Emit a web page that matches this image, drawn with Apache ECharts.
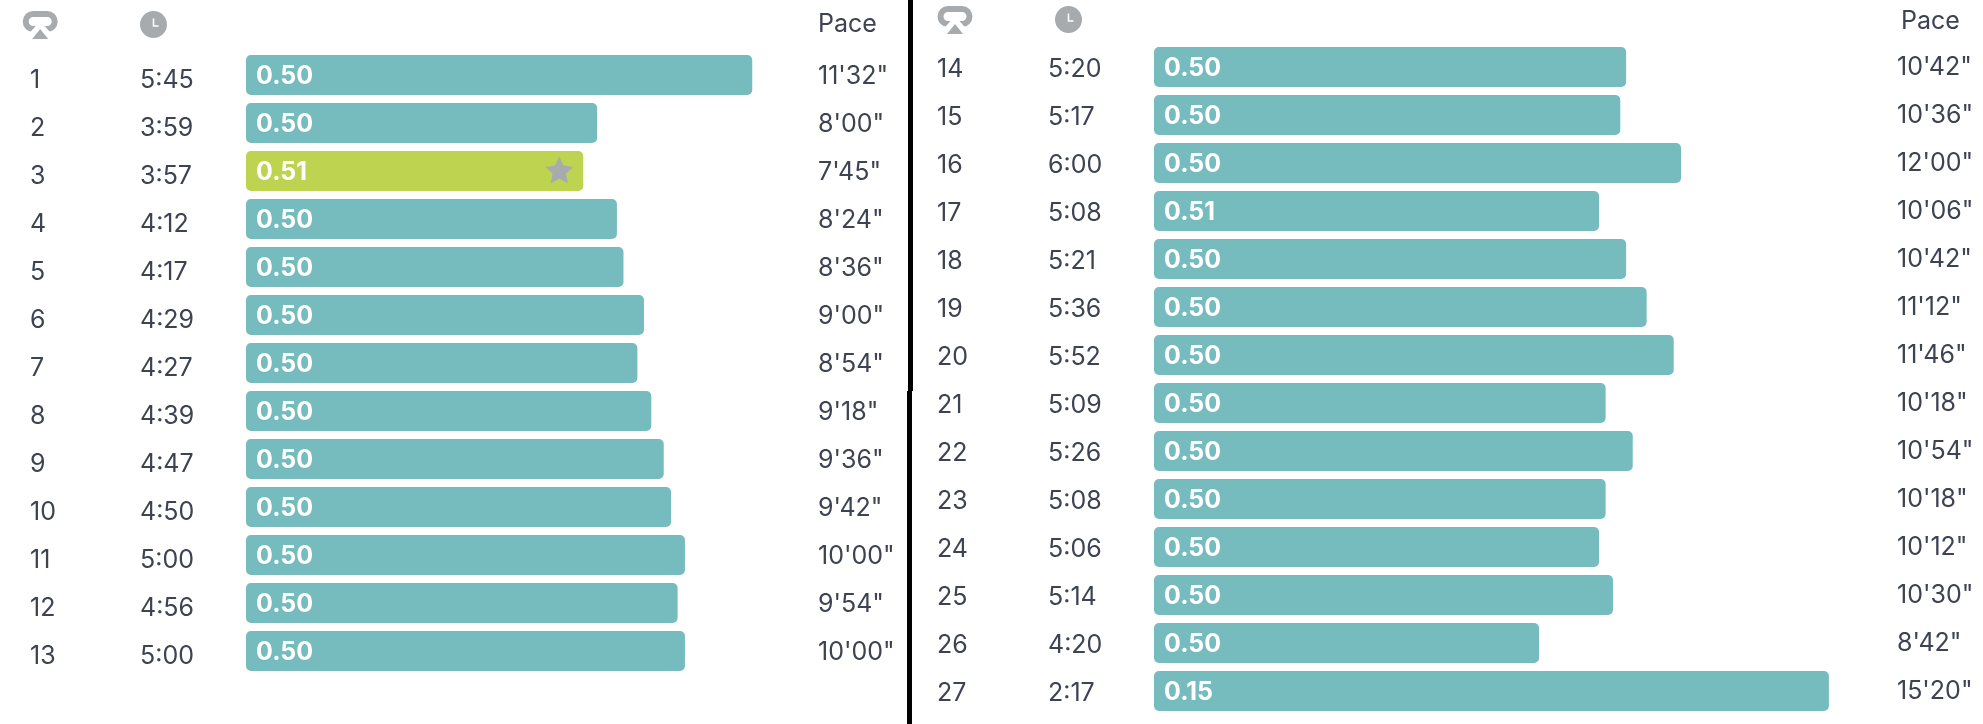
<!DOCTYPE html>
<html><head><meta charset="utf-8">
<script src="https://cdn.jsdelivr.net/npm/echarts@6/dist/echarts.min.js"></script>
<style>html,body{margin:0;padding:0;background:#fff}#c{width:1983px;height:724px}</style>
</head><body><div id="c"></div>
<script>
const lapsA = ['1','2','3','4','5','6','7','8','9','10','11','12','13'];
const timesA = ['5:45','3:59','3:57','4:12','4:17','4:29','4:27','4:39','4:47','4:50','5:00','4:56','5:00'];
const distA = ['0.50','0.50','0.51','0.50','0.50','0.50','0.50','0.50','0.50','0.50','0.50','0.50','0.50'];
const paceLabelA = ["11'32\"","8'00\"","7'45\"","8'24\"","8'36\"","9'00\"","8'54\"","9'18\"","9'36\"","9'42\"","10'00\"","9'54\"","10'00\""];
const paceSecA = [692,480,461,507,516,544,535,554,571,581,600,590,600];
const lapsB = ['14','15','16','17','18','19','20','21','22','23','24','25','26','27'];
const timesB = ['5:20','5:17','6:00','5:08','5:21','5:36','5:52','5:09','5:26','5:08','5:06','5:14','4:20','2:17'];
const distB = ['0.50','0.50','0.50','0.51','0.50','0.50','0.50','0.50','0.50','0.50','0.50','0.50','0.50','0.15'];
const paceLabelB = ["10'42\"","10'36\"","12'00\"","10'06\"","10'42\"","11'12\"","11'46\"","10'18\"","10'54\"","10'18\"","10'12\"","10'30\"","8'42\"","15'20\""];
const paceSecB = [645,637,720,608,645,673,710,617,654,617,608,627,526,922];
const bestLapIndex = 2;

const FONT = 'Inter';
const INK = '#3d4352', TEAL = '#76bcbf', LIME = '#bed350', GREY = '#a7abae';

function yAxisFor(gridIndex, labels, position, margin, shift){
  const textStyle = {color:INK, fontFamily:FONT, fontSize:25};
  return {
    type:'category', gridIndex, data:labels, inverse:true, position,
    axisLine:{show:false}, axisTick:{show:false}, splitLine:{show:false},
    axisLabel:Object.assign({show:true, interval:0, margin, align:'left',
      formatter:v=>'{t|'+v+'}',
      rich:{t:Object.assign({padding:[shift*2,0,0,0], align:'left'}, textStyle)}}, textStyle)
  };
}
function barSeries(xAxisIndex, yAxisIndex, values, dist, best){
  const barText = {color:'#fff', fontFamily:FONT, fontWeight:700, fontSize:25};
  return {
    type:'bar', xAxisIndex, yAxisIndex, barWidth:40, silent:true, animation:false,
    data: values.map((v,i)=>({value:v, itemStyle:{color: i===best?LIME:TEAL, borderRadius:5}})),
    label:Object.assign({show:true, position:'insideLeft', distance:10,
      formatter:p=>'{b|'+dist[p.dataIndex]+'}',
      rich:{b:Object.assign({padding:[2,0,0,0]}, barText)}}, barText),
    markPoint: best>=0 ? {
      silent:true, animation:false,
      symbol:'path://M50 0 L65 33 L100 38 L74 62 L81 98 L50 80 L19 98 L26 62 L0 38 L35 33 Z',
      symbolSize:[28,27], symbolOffset:[-24,-1],
      itemStyle:{color:GREY}, label:{show:false},
      data:[{coord:[values[best], best]}]
    } : undefined
  };
}
function lapIcon(x,y){
  return {type:'group', x, y, silent:true, children:[
    {type:'rect', shape:{x:3,y:3,width:29,height:15,r:7.5}, style:{fill:'none',stroke:GREY,lineWidth:6}},
    {type:'polygon', shape:{points:[[1.5,28],[17.5,10],[33.5,28]]}, style:{fill:'#fff'}},
    {type:'polygon', shape:{points:[[9.5,28],[17.5,18],[25.5,28]]}, style:{fill:GREY}}
  ]};
}
function clockIcon(cx,cy){
  return {type:'group', x:cx, y:cy, silent:true, children:[
    {type:'circle', shape:{cx:0,cy:0,r:13.5}, style:{fill:GREY}},
    {type:'polyline', shape:{points:[[0,-6],[0,1.5],[5,1.5]]}, style:{fill:'none',stroke:'#fff',lineWidth:1.6}}
  ]};
}
function paceHead(x,y){
  return {type:'text', x, y, silent:true, style:{text:'Pace', fill:INK, font:'25px '+FONT, textVerticalAlign:'middle'}};
}

const chart = echarts.init(document.getElementById('c'), null, {renderer:'canvas'});
chart.setOption({
  backgroundColor:'#fff', animation:false,
  grid:[
    {left:246, top:51, width:556, height:624},
    {left:1154, top:43, width:732, height:672}
  ],
  xAxis:[
    {type:'value', gridIndex:0, min:0, max:760, show:false},
    {type:'value', gridIndex:1, min:0, max:1000, show:false}
  ],
  yAxis:[
    yAxisFor(0, lapsA, 'left', 216, 5),
    yAxisFor(0, timesA, 'left', 106, 5),
    yAxisFor(0, paceLabelA, 'right', 16, 1),
    yAxisFor(1, lapsB, 'left', 217, 2.5),
    yAxisFor(1, timesB, 'left', 106, 2.5),
    yAxisFor(1, paceLabelB, 'right', 11, 0)
  ],
  series:[
    barSeries(0,0,paceSecA,distA,bestLapIndex),
    {type:'bar',xAxisIndex:0,yAxisIndex:1,data:[],silent:true},
    {type:'bar',xAxisIndex:0,yAxisIndex:2,data:[],silent:true},
    barSeries(1,3,paceSecB,distB,-1),
    {type:'bar',xAxisIndex:1,yAxisIndex:4,data:[],silent:true},
    {type:'bar',xAxisIndex:1,yAxisIndex:5,data:[],silent:true}
  ],
  graphic:[
    {type:'rect', shape:{x:908,y:0,width:5,height:391}, style:{fill:'#000'}, silent:true},
    {type:'rect', shape:{x:907,y:391,width:5,height:333}, style:{fill:'#000'}, silent:true},
    lapIcon(22.7,11), clockIcon(153.5,24.5), paceHead(818,24),
    lapIcon(937.5,6), clockIcon(1068.5,19.5), paceHead(1901,21)
  ]
});
</script></body></html>
